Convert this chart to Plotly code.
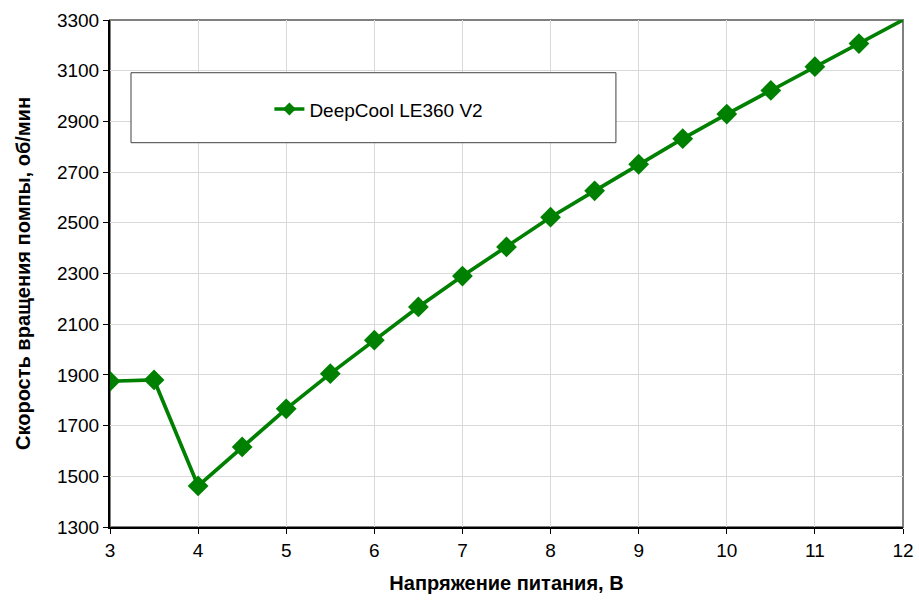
import plotly.graph_objects as go

# Pump speed vs supply voltage
voltage = [3, 3.5, 4, 4.5, 5, 5.5, 6, 6.5, 7, 7.5, 8, 8.5, 9, 9.5, 10, 10.5, 11, 11.5, 12]
rpm = [1875, 1880, 1462, 1616, 1766, 1905, 2037, 2168, 2290, 2405, 2522, 2626, 2731, 2832, 2929, 3022, 3116, 3207, 3300]
series_name = "DeepCool LE360 V2"

GREEN = "#008000"

fig = go.Figure()
fig.add_trace(go.Scatter(
    x=voltage, y=rpm, mode="lines+markers", name=series_name, showlegend=False,
    line=dict(color=GREEN, width=3.7),
    marker=dict(symbol="diamond", size=[16] * (len(voltage) - 1) + [0],
                color=GREEN, opacity=1, line=dict(width=0)),
    cliponaxis=True,
))
# legend entry with the small Excel-style marker
fig.add_trace(go.Scatter(
    x=[None], y=[None], mode="lines+markers", name=series_name,
    line=dict(color=GREEN, width=3.5),
    marker=dict(symbol="diamond", size=10, color=GREEN),
))

# legend frame
fig.add_shape(type="rect", xref="paper", yref="paper",
              x0=0.0265, x1=0.638, y0=0.758, y1=0.896,
              line=dict(color="#404040", width=1), fillcolor="white", layer="above")
# grey top/right frame
fig.add_shape(type="rect", xref="paper", yref="paper", x0=0, x1=1, y0=0, y1=1,
              line=dict(color="#808080", width=2), layer="below")

fig.update_layout(
    width=919, height=600,
    margin=dict(l=110, r=16, t=20, b=73),
    paper_bgcolor="white", plot_bgcolor="white",
    font=dict(family="Liberation Sans, Arial", size=19, color="black"),
    showlegend=True,
    legend=dict(x=0.201, y=0.824, xanchor="left", yanchor="middle",
                bgcolor="rgba(0,0,0,0)", font=dict(size=19)),
    xaxis=dict(range=[3, 12], dtick=1, showgrid=True, gridcolor="#d9d9d9",
               showline=True, linecolor="black", linewidth=2,
               ticks="outside", ticklen=5, tickcolor="black", zeroline=False,
               tickfont=dict(size=19), automargin=False, ticklabeloverflow="allow",
               title=dict(text="<b>Напряжение питания, В</b>", font=dict(size=20), standoff=16)),
    yaxis=dict(range=[1300, 3300], tick0=1300, dtick=200, showgrid=True, gridcolor="#d9d9d9",
               showline=True, linecolor="black", linewidth=2,
               ticks="outside", ticklen=5, tickcolor="black", zeroline=False,
               tickfont=dict(size=19), automargin=False, ticklabeloverflow="allow",
               title=dict(text="<b>Скорость вращения помпы, об/мин</b>", font=dict(size=20), standoff=21)),
)

fig.write_html("out.html", config={"displayModeBar": False},
               post_script="document.body.style.margin='0';document.body.style.overflow='hidden';")
